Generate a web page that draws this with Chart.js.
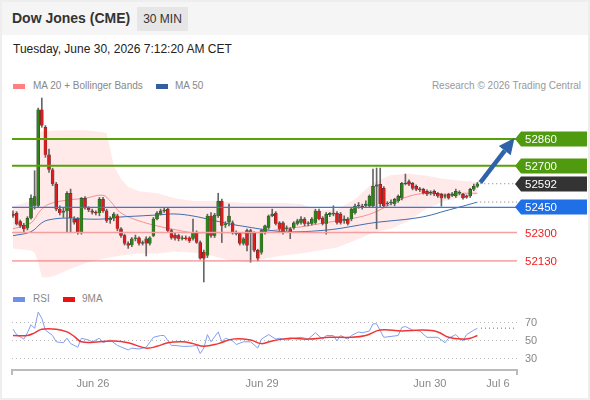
<!DOCTYPE html>
<html>
<head>
<meta charset="utf-8">
<script src="https://cdn.jsdelivr.net/npm/chart.js@4.4.1/dist/chart.umd.min.js"></script>
<style>
body { margin: 0; font-family: "Liberation Sans", Arial, sans-serif; }
#wrap { position: relative; width: 590px; height: 400px; background: #fff; overflow: hidden; }
#frame { position: absolute; left: 0; top: 0; width: 590px; height: 400px; box-sizing: border-box; border: 2px solid #eeeeee; pointer-events: none; }
#head { position: absolute; left: 0; top: 0; width: 590px; height: 35px; background: #f5f5f5; }
#title { position: absolute; left: 12px; top: 10px; font-size: 14px; font-weight: bold; color: #333; }
#tf { position: absolute; left: 137px; top: 7px; width: 51px; height: 24px; line-height: 24px; text-align: center; background: #e6e6e6; font-size: 12px; color: #333; }
#date { position: absolute; left: 13px; top: 42px; font-size: 12px; color: #222; }
.leg { position: absolute; font-size: 10px; color: #888; white-space: nowrap; }
.sw { position: absolute; width: 12px; height: 5px; }
canvas { position: absolute; left: 0; }
</style>
</head>
<body>
<div id="wrap">
  <div id="head"></div>
  <div id="title">Dow Jones (CME)</div>
  <div id="tf">30 MIN</div>
  <div id="date">Tuesday, June 30, 2026 7:12:20 AM CET</div>

  <div class="sw" style="left:13px;top:84px;background:#ff8080"></div>
  <div class="leg" style="left:33px;top:80px">MA 20 + Bollinger Bands</div>
  <div class="sw" style="left:156px;top:84px;background:#335f9f"></div>
  <div class="leg" style="left:175px;top:80px">MA 50</div>
  <div class="leg" style="right:9px;top:80px;color:#999">Research © 2026 Trading Central</div>

  <div class="sw" style="left:13px;top:297px;background:#6f8fe8"></div>
  <div class="leg" style="left:33px;top:293px">RSI</div>
  <div class="sw" style="left:63px;top:297px;background:#ee1111"></div>
  <div class="leg" style="left:82px;top:293px">9MA</div>

  <canvas id="main" width="590" height="190" style="top:95px"></canvas>
  <canvas id="rsi" width="590" height="95" style="top:300px"></canvas>
  <div id="frame"></div>
</div>

<script>
// 30 min candles, index 0 = first bar on the left
var candleOpen = [52410,52415,52365,52345,52325,52385,52460,52460,53035,52930,52765,52675,52590,52440,52420,52428,52535,52380,52380,52300,
  52505,52446,52430,52420,52417,52499,52430,52375,52385,52400,52322,52281,52234,52225,52263,52268,52234,52263,52234,52281,
  52381,52410,52428,52440,52311,52285,52281,52263,52268,52268,52263,52299,52240,52181,52163,52399,52281,52399,52488,52345,
  52360,52358,52300,52293,52234,52311,52311,52299,52193,52181,52299,52328,52399,52417,52358,52358,52322,52322,52328,52352,
  52358,52381,52352,52352,52358,52429,52387,52352,52405,52410,52415,52410,52370,52381,52381,52417,52458,52458,52460,52458,
  52458,52576,52588,52565,52470,52476,52470,52488,52505,52594,52605,52594,52576,52558,52558,52547,52535,52547,52535,52529,
  52515,52529,52520,52517,52535,52529,52520,52517,52558,52576]
var candleHigh = [52430,52425,52375,52355,52395,52525,52670,53045,53105,52940,52800,52685,52600,52460,52450,52545,52560,52395,52390,52510,
  52515,52455,52440,52430,52510,52510,52440,52395,52420,52410,52330,52290,52245,52270,52285,52275,52250,52275,52275,52390,
  52425,52440,52445,52450,52320,52295,52290,52280,52280,52275,52381,52310,52250,52195,52410,52420,52415,52535,52500,52365,
  52470,52370,52310,52300,52270,52320,52320,52305,52200,52320,52345,52405,52440,52425,52365,52365,52340,52330,52365,52380,
  52395,52390,52365,52390,52440,52440,52395,52420,52420,52460,52425,52420,52400,52390,52450,52470,52480,52470,52490,52525,
  52680,52686,52686,52575,52485,52495,52505,52525,52600,52650,52615,52600,52585,52570,52565,52555,52550,52555,52540,52535,
  52530,52535,52540,52560,52550,52535,52525,52565,52590,52600]
var candleLow = [52390,52345,52330,52300,52315,52380,52440,52450,52930,52750,52660,52580,52430,52405,52390,52300,52300,52350,52290,52290,
  52440,52425,52410,52405,52400,52420,52360,52355,52370,52310,52270,52225,52205,52215,52250,52225,52225,52160,52225,52275,
  52375,52405,52420,52300,52260,52255,52250,52255,52255,52240,52255,52235,52140,52004,52150,52270,52270,52390,52240,52330,
  52340,52290,52285,52225,52225,52190,52122,52185,52130,52170,52290,52320,52395,52345,52300,52290,52310,52263,52320,52345,
  52350,52340,52340,52345,52350,52375,52345,52290,52395,52400,52350,52350,52355,52345,52370,52410,52445,52440,52455,52450,
  52450,52322,52450,52450,52460,52465,52460,52480,52495,52585,52580,52555,52550,52545,52530,52520,52525,52520,52510,52458,
  52505,52500,52515,52510,52525,52500,52505,52510,52550,52570]
var candleClose = [52400,52350,52340,52320,52385,52505,52515,53035,52940,52765,52675,52590,52440,52417,52428,52535,52387,52360,52300,52505,
  52446,52435,52420,52415,52499,52429,52370,52385,52410,52322,52281,52234,52222,52263,52268,52234,52240,52234,52269,52381,
  52417,52428,52430,52311,52269,52265,52263,52268,52262,52250,52299,52240,52145,52145,52399,52281,52405,52488,52340,52352,
  52399,52299,52293,52234,52263,52222,52299,52193,52145,52311,52340,52399,52410,52352,52322,52299,52328,52299,52358,52370,
  52381,52352,52358,52381,52429,52381,52352,52410,52415,52415,52358,52358,52380,52352,52440,52458,52460,52450,52470,52517,
  52576,52585,52470,52458,52476,52480,52499,52517,52594,52590,52588,52564,52558,52555,52535,52529,52538,52529,52517,52505,
  52520,52505,52530,52547,52540,52505,52510,52558,52576,52592]

// Bollinger bands (20) and moving averages
var bandIdx   = [0,5,6,7,8,10,12,15,20,25,26,28,30,32,35,40,45,50,55,60,65,70,75,80,85,90,95,100,105,110,115,120,125,129]
var bandUpper = [52458,52488,52500,52900,52905,52908,52910,52912,52912,52900,52895,52700,52620,52572,52547,52535,52505,52488,52488,52482,
  52476,52476,52476,52470,52434,52440,52499,52598,52645,52652,52640,52620,52608,52602]
var bandLower = [52204,52193,52180,52122,52033,52033,52045,52075,52116,52145,52148,52155,52163,52168,52175,52175,52187,52181,52163,52134,
  52122,52145,52163,52175,52193,52210,52252,52299,52322,52370,52446,52488,52511,52529]
var ma20Idx = [0,5,7.5,10,15,20,25,27,30,35,40,45,50,55,60,65,70,75,80,85,90,95,100,105,110,115,120,125,129]
var ma20Val = [52322,52358,52429,52470,52494,52505,52523,52488,52417,52370,52340,52317,52299,52299,52299,52293,52305,52322,52334,52352,
  52370,52387,52417,52470,52517,52535,52529,52535,52535]
var ma50Idx = [0,5,8,10,15,20,25,30,35,40,45,50,55,60,65,70,75,80,85,90,95,100,105,110,115,120,125,129]
var ma50Val = [52281,52305,52358,52376,52387,52381,52381,52393,52399,52405,52411,52399,52376,52352,52334,52317,52305,52305,52311,52322,
  52340,52358,52370,52381,52399,52429,52458,52482]

// RSI and its 9 period average
var rsiIdx = [0,1,3,4,5,6,7,8,9,11,12,14,15,16,18,19,21,22,24,25,27,29,32,33,35,37,39,41,42,44,45,47,49,51,52,53,54,55,57,58,59,61,62,64,66,68,69,71,73,74,76,78,80,82,84,86,87,89,90,91,93,94,96,97,99,100,101,103,105,107,108,109,111,113,115,118,120,121,123,124,125,126,128,129]
var rsiVal = [62,56,51,58,67,63,81,74,61,55,48,47,52,46,42,52,50,48,52,47,50,44,39,41,40,42,53,55,55,44,44,43,43,44,35,41,56,48,59,48,52,49,45,48,48,41,51,56,51,52,50,52,53,51,58,51,55,55,49,55,51,55,59,58,60,68,68,53,54,55,64,65,61,60,53,53,47,52,56,52,49,56,61,63]
var rsiMaIdx = [0,4,6,8,12,15,17,19,24,28,32,37,40,43,47,50,53,57,61,66,69,72,77,82,88,94,98,102,108,114,118,121,125,127,129]
var rsiMaVal = [55,55,58,62,62,59,54,48,48,49,47,41,43,47,48,46,43,46,51,50,46,49,52,51,53,53,55,61,60,61,59,53,51,52,55]
var rsiLevels = [30, 50, 70]

// levels on the right
var levelValues = [52860, 52700, 52592, 52450, 52300, 52130]
var boxLevels   = [52860, 52700, 52592, 52450]
var boxColors   = ['#4f9a0e', '#4f9a0e', '#333333', '#1f6fe6']
var textLevels  = [52300, 52130]
var arrowFrom = [129.8, 52598]
var arrowTo   = [139.3, 52866]
var lastMa50 = 52482

// dates on the time axis
var dateTickIdx = [22.2, 69.2, 115.8, 134.7]
var dateTickLabels = ['Jun 26', 'Jun 29', 'Jun 30', 'Jul 6']

var xMin = -0.28, xMax = 140
var font = '"Liberation Sans", Arial, sans-serif'

function pts(idx, val) {
	var p = []
	for (var i = 0; i < idx.length; i++) p.push({x: idx[i], y: val[i]})
	return p
}

function flat(v, a, b) {
	return [{x: a, y: v}, {x: b, y: v}]
}

var wicks = [], bodies = [], bodyColors = []
for (var i = 0; i < candleOpen.length; i++) {
	wicks.push({x: i, y: [candleLow[i], candleHigh[i]]})
	bodies.push({x: i, y: [candleOpen[i], candleClose[i]]})
	bodyColors.push(candleClose[i] >= candleOpen[i] ? '#2b8417' : '#e01b1b')
}
var last = candleOpen.length - 1

var lineStyle = {type: 'line', pointRadius: 0, fill: false, tension: 0}

var levelsPlugin = {
	id: 'levels',
	afterDraw: function(chart) {
		var ctx = chart.ctx, xs = chart.scales.x, ys = chart.scales.y
		var right = chart.chartArea.right
		ctx.save()

		// arrow to the target
		var x1 = xs.getPixelForValue(arrowFrom[0]), y1 = ys.getPixelForValue(arrowFrom[1])
		var x2 = xs.getPixelForValue(arrowTo[0]), y2 = ys.getPixelForValue(arrowTo[1])
		var a = Math.atan2(y2 - y1, x2 - x1)
		var hl = 16, hw = 7.5
		var bx = x2 - hl * Math.cos(a), by = y2 - hl * Math.sin(a)
		ctx.strokeStyle = '#2f62a8'
		ctx.fillStyle = '#2f62a8'
		ctx.lineWidth = 4.5
		ctx.beginPath()
		ctx.moveTo(x1, y1)
		ctx.lineTo(bx, by)
		ctx.stroke()
		ctx.beginPath()
		ctx.moveTo(x2, y2)
		ctx.lineTo(bx + hw * Math.sin(a), by - hw * Math.cos(a))
		ctx.lineTo(bx - hw * Math.sin(a), by + hw * Math.cos(a))
		ctx.closePath()
		ctx.fill()

		// price boxes
		ctx.font = '11.5px ' + font
		ctx.textBaseline = 'middle'
		for (var k = 0; k < boxLevels.length; k++) {
			var py = Math.round(ys.getPixelForValue(boxLevels[k]))
			ctx.fillStyle = boxColors[k]
			ctx.beginPath()
			ctx.moveTo(right - 2, py)
			ctx.lineTo(right + 4, py - 7.5)
			ctx.lineTo(right + 70, py - 7.5)
			ctx.lineTo(right + 70, py + 7.5)
			ctx.lineTo(right + 4, py + 7.5)
			ctx.closePath()
			ctx.fill()
			ctx.fillStyle = '#ffffff'
			ctx.fillText(String(boxLevels[k]), right + 8, py + 1)
		}
		ctx.fillStyle = '#ee2020'
		for (var k = 0; k < textLevels.length; k++) {
			ctx.fillText(String(textLevels[k]), right + 8, ys.getPixelForValue(textLevels[k]) + 1)
		}
		ctx.restore()
	}
}

var rsiLabelPlugin = {
	id: 'rsiLabels',
	afterDraw: function(chart) {
		var ctx = chart.ctx, ys = chart.scales.y
		ctx.save()
		ctx.font = '11px ' + font
		ctx.fillStyle = '#888'
		ctx.textBaseline = 'middle'
		for (var k = 0; k < rsiLevels.length; k++) {
			ctx.fillText(String(rsiLevels[k]), chart.chartArea.right + 8, ys.getPixelForValue(rsiLevels[k]) + 1)
		}
		ctx.restore()
	}
}

new Chart(document.getElementById('main'), {
	type: 'bar',
	data: {
		datasets: [
			Object.assign({}, lineStyle, {data: flat(levelValues[0], xMin, xMax), borderColor: '#57a20a', borderWidth: 2, order: 1}),
			Object.assign({}, lineStyle, {data: flat(levelValues[1], xMin, xMax), borderColor: '#57a20a', borderWidth: 2, order: 1}),
			Object.assign({}, lineStyle, {data: flat(levelValues[2], last + 0.8, xMax), borderColor: '#777', borderWidth: 1, borderDash: [1, 3], order: 1}),
			Object.assign({}, lineStyle, {data: flat(lastMa50, last + 0.8, xMax), borderColor: '#777', borderWidth: 1, borderDash: [1, 3], order: 1}),
			Object.assign({}, lineStyle, {data: flat(levelValues[3], xMin, xMax), borderColor: '#3a78e0', borderWidth: 1.2, order: 1}),
			Object.assign({}, lineStyle, {data: flat(levelValues[4], xMin, xMax), borderColor: '#f5a0a0', borderWidth: 1.5, order: 1}),
			Object.assign({}, lineStyle, {data: flat(levelValues[5], xMin, xMax), borderColor: '#f07070', borderWidth: 1, order: 1}),
			{type: 'bar', data: bodies, backgroundColor: bodyColors, borderColor: '#3a3a3a', borderWidth: 0.5, barThickness: 3, minBarLength: 1, grouped: false, order: 3},
			{type: 'bar', data: wicks, backgroundColor: '#666', barThickness: 1, grouped: false, order: 4},
			Object.assign({}, lineStyle, {data: pts(ma50Idx, ma50Val), borderColor: '#3f6db0', borderWidth: 1, tension: 0.4, order: 5}),
			Object.assign({}, lineStyle, {data: pts(ma20Idx, ma20Val), borderColor: '#f59090', borderWidth: 1, tension: 0.4, order: 5}),
			Object.assign({}, lineStyle, {data: pts(bandIdx, bandUpper), borderWidth: 0, borderColor: 'rgba(0,0,0,0)', fill: '+1', backgroundColor: 'rgba(255,175,175,0.28)', order: 9}),
			Object.assign({}, lineStyle, {data: pts(bandIdx, bandLower), borderWidth: 0, borderColor: 'rgba(0,0,0,0)', order: 9})
		]
	},
	options: {
		responsive: false,
		animation: false,
		layout: {padding: {left: 12, right: 73, top: 0, bottom: 0}},
		plugins: {legend: {display: false}, tooltip: {enabled: false}},
		scales: {
			x: {type: 'linear', min: xMin, max: xMax, offset: false, display: false},
			y: {min: 51986, max: 53123, display: false}
		}
	},
	plugins: [levelsPlugin]
})

new Chart(document.getElementById('rsi'), {
	type: 'line',
	data: {
		datasets: [
			{data: pts(rsiMaIdx, rsiMaVal), borderColor: '#f03535', borderWidth: 1.5, pointRadius: 0, tension: 0.4},
			{data: pts(rsiIdx, rsiVal), borderColor: '#809ff0', borderWidth: 1, pointRadius: 0, tension: 0},
			{data: flat(rsiVal[rsiVal.length - 1], last + 1, xMax - 0.6), borderColor: '#809ff0', borderWidth: 1.5, borderDash: [1, 3], pointRadius: 0}
		]
	},
	options: {
		responsive: false,
		animation: false,
		layout: {padding: {left: 12, right: 0, top: 5, bottom: 0}},
		plugins: {legend: {display: false}, tooltip: {enabled: false}},
		scales: {
			x: {
				type: 'linear', min: xMin, max: xMax, offset: false,
				afterBuildTicks: function(s) {
					var t = [{value: xMin}]
					for (var i = 0; i < dateTickIdx.length; i++) t.push({value: dateTickIdx[i]})
					t.push({value: xMax})
					s.ticks = t
				},
				afterFit: function(s) { s.height = 25 },
				grid: {
					drawOnChartArea: false, drawTicks: true, tickLength: 5, lineWidth: 2,
					color: function(c) { return (c.index === 0 || c.index === dateTickIdx.length + 1) ? '#bbb' : 'rgba(0,0,0,0)' }
				},
				border: {color: '#bbb', width: 2},
				ticks: {
					autoSkip: false, maxRotation: 0, padding: 2, color: '#888',
					font: {family: font, size: 11},
					callback: function(v, i) { return (i === 0 || i > dateTickIdx.length) ? '' : dateTickLabels[i - 1] }
				}
			},
			y: {
				position: 'right', min: 16.7, max: 88.9,
				afterBuildTicks: function(s) { s.ticks = rsiLevels.map(function(v) { return {value: v} }) },
				afterFit: function(s) { s.width = 73 },
				grid: {color: '#bbb', drawTicks: false},
				border: {display: false, dash: [1, 3]},
				ticks: {display: false}
			}
		}
	},
	plugins: [rsiLabelPlugin]
})
</script>
</body>
</html>
